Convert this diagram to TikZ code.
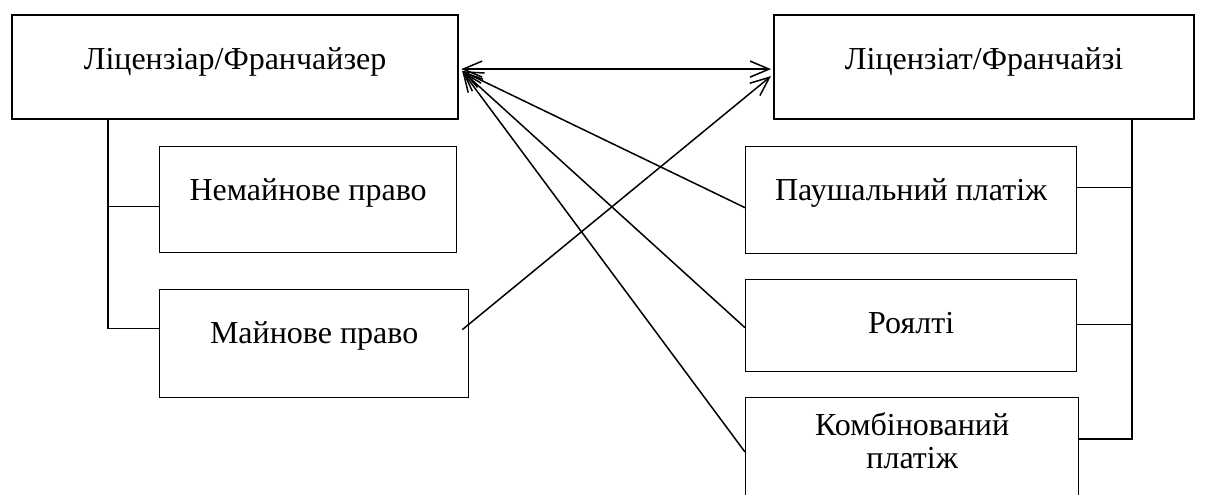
\documentclass[tikz,border=0pt]{standalone}
\usepackage{fontspec}
\setmainfont{Liberation Serif}
\usetikzlibrary{arrows.meta, calc}

\begin{document}
\begin{tikzpicture}[x=0.5pt, y=-0.5pt, font=\fontsize{16}{16.5}\selectfont,
	blk/.style={draw, line width=0.65pt, inner sep=0pt, anchor=north west, text height=27pt, text depth=#1},
	main/.style={blk=#1, line width=1.1pt},
	lk/.style={line width=0.75pt},
	fl/.style={-{Straight Barb[length=9.5pt, width=8pt]}, line width=0.75pt},
	fl2/.style={{Straight Barb[length=9.5pt, width=8pt]}-{Straight Barb[length=9.5pt, width=8pt]}, line width=0.75pt}]
	\useasboundingbox (0,0) rectangle (1216,494);
	\clip (0,0) rectangle (1216,494);
	% parties
	\node[main=25pt, minimum width=223pt] (lic) at (11,14) {Ліцензіар/Франчайзер};
	\node[main=25pt, minimum width=210pt] (lit) at (773,14) {Ліцензіат/Франчайзі};
	% rights
	\node[blk=26pt, minimum width=148.5pt] (nem) at (159,146) {Немайнове право};
	\node[blk=27pt, minimum width=154.5pt] (may) at (159,289) {Майнове право};
	% payments
	\node[blk=26.5pt, minimum width=165.5pt] (paus) at (745,146) {Паушальний платіж};
	\node[blk=19pt, minimum width=165.5pt] (roy) at (745,279) {Роялті};
	\node[blk=20pt, text height=35.5pt, align=center, minimum width=166.5pt] (komb) at (745,397) {Комбінований\\платіж};
	% trunks
	\coordinate (ltop) at ($(lic.south west)+(97,0)$);
	\coordinate (nstub) at ($(nem.west)+(0,7)$);
	\coordinate (mstub) at ($(may.west)+(0,-15)$);
	\draw[lk] (ltop) |- (mstub);
	\draw[lk] (nstub) -- (nstub -| ltop);
	\coordinate (rtop) at ($(lit.south west)+(359,0)$);
	\coordinate (pstub) at ($(paus.east)+(0,-12.5)$);
	\coordinate (rstub) at ($(roy.east)+(0,-1)$);
	\coordinate (kstub) at ($(komb.north east)+(0,42)$);
	\draw[lk] (rtop) |- (kstub);
	\draw[lk] (pstub) -- (pstub -| rtop);
	\draw[lk] (rstub) -- (rstub -| rtop);
	% flows
	\coordinate (lin) at ($(lic.east)+(3,4)$);
	\coordinate (rin) at ($(lit.west)+(-2,9)$);
	\coordinate (pout) at ($(paus.west)+(0,7.5)$);
	\coordinate (rout) at ($(roy.west)+(0,2)$);
	\coordinate (kout) at ($(komb.north west)+(0,55)$);
	\coordinate (mout) at ($(may.east)+(-7,-14)$);
	\draw[fl2] ($(lic.east)+(2,2)$) -- ($(lit.west)+(-2,2)$);
	\draw[fl] (pout) -- (lin);
	\draw[fl] (rout) -- (lin);
	\draw[fl] (kout) -- (lin);
	\draw[fl] (mout) -- (rin);
\end{tikzpicture}
\end{document}
